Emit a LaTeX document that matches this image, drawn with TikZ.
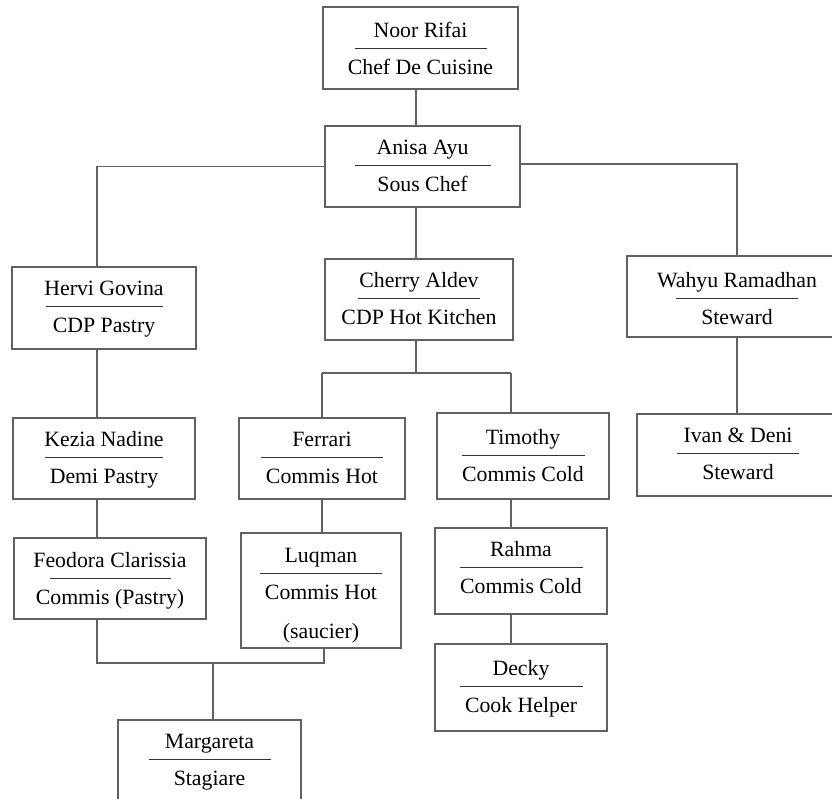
\documentclass[tikz,border=0pt]{standalone}
\usepackage{fontspec}
\setmainfont{Liberation Serif}
\tikzset{
  orgbox/.style={draw=black!62, line width=1.1pt, rectangle, inner sep=0pt, outer sep=0pt},
  txt/.style={anchor=base, inner sep=0pt, font=\fontsize{21.8}{26}\selectfont, text=black},
  seprule/.style={draw=black!80, line width=0.9pt},
  conn/.style={draw=black!62, line width=1.1pt}
}
% #1 name, #2 L, #3 T, #4 R, #5 B, #6 separator y, #7 separator half width, #8 first line, #9 second line
\newcommand\orgentry[9]{%
  \node[orgbox, minimum width={(#4-#2)*1pt}, minimum height={(#5-#3)*1pt}] (#1) at ({(#2+#4)/2},{(#3+#5)/2}) {};
  \node[txt] (#1-name) at ({(#2+#4)/2},{#6-10.5}) {#8};
  \node[txt] (#1-role) at ({(#2+#4)/2},{#6+26.5}) {#9};
  \draw[seprule] ({(#2+#4)/2-#7},#6) -- ({(#2+#4)/2+#7},#6);
}
\begin{document}
\begin{tikzpicture}[x=1pt,y=-1pt]
\useasboundingbox[fill=white] (0,0) rectangle (832,798);
\orgentry{noor}{323}{7}{518}{89}{48}{66}{Noor Rifai}{Chef De Cuisine}
\orgentry{anisa}{325}{126}{520}{207}{165}{68}{Anisa Ayu}{Sous Chef}
\orgentry{hervi}{12}{267}{196}{349}{306}{58.5}{Hervi Govina}{CDP Pastry}
\orgentry{cherry}{325}{259}{513}{340}{298}{61}{Cherry Aldev}{CDP Hot Kitchen}
\orgentry{wahyu}{627}{256}{847}{337}{298}{61}{Wahyu Ramadhan}{Steward}
\orgentry{ivan}{637}{414}{839}{496}{453}{61}{Ivan \& Deni}{Steward}
\orgentry{kezia}{13}{418}{195}{499}{457}{59}{Kezia Nadine}{Demi Pastry}
\orgentry{ferrari}{239}{418}{405}{499}{457}{61}{Ferrari}{Commis Hot}
\orgentry{timothy}{437}{413}{609}{499}{455}{61.5}{Timothy}{Commis Cold}
\orgentry{feodora}{14}{538}{206}{619}{578}{60.5}{Feodora Clarissia}{Commis (Pastry)}
\orgentry{luqman}{241}{533}{401}{648}{573}{61}{Luqman}{Commis Hot}
\node[txt] (luqman-extra) at (321,638) {(saucier)};
\orgentry{rahma}{435}{528}{607}{614}{567}{61.5}{Rahma}{Commis Cold}
\orgentry{decky}{435}{644}{607}{731}{686}{61.5}{Decky}{Cook Helper}
\orgentry{margareta}{118}{720}{301}{810}{759}{61}{Margareta}{Stagiare}
% trunk coordinates
\coordinate (tmain) at (416,0);
\coordinate (tleft) at (97,0);
\coordinate (tright) at (737,0);
\coordinate (tferrari) at (322,0);
\coordinate (ttim) at (511,0);
\coordinate (tluq) at (324,0);
\coordinate (tmarg) at (213,0);
\coordinate (hotbar) at (0,373);
\coordinate (stagbar) at (0,663);
% connectors
\draw[conn] (noor.south -| tmain) -- (anisa.north -| tmain);
\draw[conn] (anisa.west) -| (hervi.north -| tleft);
\draw[conn] ([yshift=2.5pt]anisa.east) -| (wahyu.north -| tright);
\draw[conn] (anisa.south -| tmain) -- (cherry.north -| tmain);
\draw[conn] (cherry.south -| tmain) -- (hotbar -| tmain);
\draw[conn] (hotbar -| tferrari) -- (hotbar -| ttim);
\draw[conn] (hotbar -| tferrari) -- (ferrari.north -| tferrari);
\draw[conn] (hotbar -| ttim) -- (timothy.north -| ttim);
\draw[conn] (hervi.south -| tleft) -- (kezia.north -| tleft);
\draw[conn] (kezia.south -| tleft) -- (feodora.north -| tleft);
\draw[conn] (ferrari.south -| tferrari) -- (luqman.north -| tferrari);
\draw[conn] (timothy.south -| ttim) -- (rahma.north -| ttim);
\draw[conn] (rahma.south -| ttim) -- (decky.north -| ttim);
\draw[conn] (wahyu.south -| tright) -- (ivan.north -| tright);
\draw[conn] (feodora.south -| tleft) -- (stagbar -| tleft) -- (stagbar -| tluq) -- (luqman.south -| tluq);
\draw[conn] (stagbar -| tmarg) -- (margareta.north -| tmarg);
\end{tikzpicture}
\end{document}
